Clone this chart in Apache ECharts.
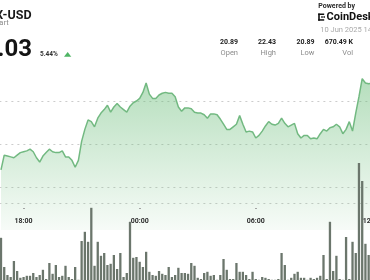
<!DOCTYPE html>
<html>
<head>
<meta charset="utf-8">
<script src="https://cdn.jsdelivr.net/npm/echarts@6/dist/echarts.min.js"></script>
<style>
  html, body { margin: 0; padding: 0; background: #ffffff; }
  #chart { width: 370px; height: 280px; }
</style>
</head>
<body>
<div id="chart"></div>
<script>
// AVAX-USD intraday: 10-minute slots from 16:50 to 12:00
const firstSlot = '16:50';
const slotCount = 116;
const slotMinutes = 10;

// last traded price per slot (USD)
const priceValues = [
  21.20, 21.37, 21.36, 21.35, 21.34, 21.37, 21.40, 21.41, 21.42, 21.44,
  21.41, 21.34, 21.29, 21.36, 21.40, 21.44, 21.41, 21.40, 21.40, 21.42,
  21.35, 21.35, 21.31, 21.23, 21.31, 21.53, 21.67, 21.78, 21.76, 21.70,
  21.80, 21.86, 21.90, 21.95, 21.87, 21.93, 21.97, 21.93, 21.90, 21.87,
  21.94, 21.98, 22.00, 22.03, 22.10, 22.21, 22.08, 22.03, 22.03, 22.07,
  22.09, 22.10, 22.09, 22.09, 22.05, 21.93, 21.88, 21.92, 21.92, 21.91,
  21.87, 21.86, 21.86, 21.84, 21.80, 21.85, 21.85, 21.84, 21.79, 21.73,
  21.67, 21.67, 21.70, 21.73, 21.83, 21.73, 21.64, 21.65, 21.64, 21.57,
  21.60, 21.65, 21.71, 21.76, 21.73, 21.72, 21.74, 21.80, 21.74, 21.70,
  21.72, 21.74, 21.62, 21.57, 21.60, 21.60, 21.56, 21.57, 21.56, 21.62,
  21.67, 21.65, 21.69, 21.70, 21.73, 21.70, 21.62, 21.67, 21.76, 21.65,
  21.86, 22.05, 22.26, 22.21, 22.20, 22.21
];

// traded volume per slot (thousands of AVAX)
const volumeValues = [
  11.3, 4.0, 2.0, 1.5, 5.5, 3.0, 1.3, 1.5, 1.8, 1.8,
  2.5, 1.5, 2.0, 3.3, 1.0, 5.0, 2.3, 4.5, 1.5, 1.8,
  4.3, 1.5, 1.0, 4.0, 0.8, 10.5, 12.8, 10.3, 18.8, 4.3,
  10.3, 6.8, 7.5, 4.5, 4.8, 7.0, 3.5, 7.5, 1.5, 2.5,
  15.3, 6.3, 6.5, 5.3, 4.0, 7.8, 2.8, 2.0, 1.8, 3.0,
  2.3, 2.0, 4.0, 1.5, 2.0, 3.8, 2.5, 2.5, 2.3, 5.0,
  4.3, 1.3, 1.0, 2.5, 2.8, 1.8, 2.0, 0.8, 2.0, 6.0,
  3.3, 1.0, 1.0, 5.0, 2.8, 2.8, 2.0, 1.0, 2.8, 1.0,
  0.8, 1.5, 1.3, 1.0, 0.8, 0.8, 1.0, 7.5, 4.5, 0.8,
  1.3, 2.3, 2.8, 1.3, 1.3, 0.8, 1.3, 1.0, 1.3, 1.8,
  7.0, 1.0, 15.3, 3.0, 6.8, 1.0, 0.8, 11.5, 1.0, 10.3,
  7.5, 30.0, 25.5, 9.8, 7.0, 6.3
];

const xTickLabels = ['18:00', '00:00', '06:00', '12:00'];
const priceAxisMin = 20.5, priceAxisMax = 22.5, priceAxisStep = 0.5;
const volumeAxisMax = 30, volumeGuideStep = 20;

const symbolName = 'AVAX-USD';
const subTitle = 'Chart';
const lastPrice = '22.03';
const changePct = '5.44%';
const statValues = ['20.89', '22.43', '20.89', '670.49 K'];
const statLabels = ['Open', 'High', 'Low', 'Vol'];
const brandLine = 'Powered by';
const brandName = 'CoinDesk';
const stampText = '10 Jun 2025 14:00 UTC';

function buildSlots(start, n, step) {
  const parts = start.split(':');
  let m = (+parts[0]) * 60 + (+parts[1]);
  const out = [];
  for (let i = 0; i < n; i++) {
    const t = ((m % 1440) + 1440) % 1440;
    const hh = String(Math.floor(t / 60)).padStart(2, '0');
    const mm = String(t % 60).padStart(2, '0');
    out.push(hh + ':' + mm);
    m += step;
  }
  return out;
}
const categories = buildSlots(firstSlot, slotCount, slotMinutes);

const FONT = 'Roboto, "Liberation Sans", sans-serif';
const slotW = 3.225;
const gridLeft = 1.0 - slotW / 2;
const gridRight = 370 - (gridLeft + slotW * slotCount);

const showTick = (idx, val) => xTickLabels.indexOf(val) >= 0;

const statX = [238, 276, 314.5, 353];
const header = [];
header.push({ type: 'text', x: 31.5, y: 15.5, style: { text: symbolName, font: 'bold 12.5px ' + FONT, fill: '#1a1a1a', align: 'right', verticalAlign: 'middle' } });
header.push({ type: 'text', x: 8.6, y: 23.5, style: { text: subTitle, font: '7.5px ' + FONT, fill: '#8a8a8a', align: 'right', verticalAlign: 'middle' } });
header.push({ type: 'text', x: 32, y: 50, style: { text: lastPrice, font: 'bold 24px ' + FONT, fill: '#141414', align: 'right', verticalAlign: 'middle' } });
header.push({ type: 'text', x: 40, y: 54.7, style: { text: changePct, font: 'bold 6.5px ' + FONT, fill: '#333333', align: 'left', verticalAlign: 'middle' } });
header.push({ type: 'polygon', shape: { points: [[64, 56.8], [71.3, 56.8], [67.65, 52]] }, style: { fill: '#4fb565' } });
header.push({ type: 'text', x: 318.3, y: 6.4, style: { text: brandLine, font: 'bold 7px ' + FONT, fill: '#2a2a2a', align: 'left', verticalAlign: 'middle' } });
// brand mark
[[318.2, 13.5, 1.6, 7.2], [318.2, 13.5, 6, 1.5], [318.2, 19.2, 6, 1.5], [321.2, 16.3, 1.6, 1.5], [323.4, 16.3, 1.6, 1.5]].forEach(r => {
  header.push({ type: 'rect', shape: { x: r[0], y: r[1], width: r[2], height: r[3] }, style: { fill: '#111111' } });
});
header.push({ type: 'text', x: 326.6, y: 17.2, style: { text: brandName, font: 'bold 11px ' + FONT, fill: '#111111', align: 'left', verticalAlign: 'middle' } });
header.push({ type: 'text', x: 320.3, y: 30, style: { text: stampText, font: '7.5px ' + FONT, fill: '#a9a9a9', align: 'left', verticalAlign: 'middle' } });
statValues.forEach((v, i) => {
  header.push({ type: 'text', x: statX[i], y: 42.6, style: { text: v, font: 'bold 7px ' + FONT, fill: '#222222', align: 'right', verticalAlign: 'middle' } });
  header.push({ type: 'text', x: statX[i], y: 53.2, style: { text: statLabels[i], font: '7.5px ' + FONT, fill: '#8c8c8c', align: 'right', verticalAlign: 'middle' } });
});

const chart = echarts.init(document.getElementById('chart'), null, { renderer: 'canvas' });
chart.setOption({
  backgroundColor: '#ffffff',
  animation: false,
  graphic: { elements: header },
  grid: [
    { left: gridLeft, right: gridRight, top: 58, bottom: 50, outerBoundsMode: 'none', containLabel: false },
    { left: gridLeft, right: gridRight, top: 163, bottom: -3, outerBoundsMode: 'none', containLabel: false }
  ],
  xAxis: [
    {
      type: 'category', gridIndex: 0, data: categories, boundaryGap: true,
      axisLine: { show: false, onZero: false }, axisTick: { show: false }, axisLabel: { show: false }, splitLine: { show: false }
    },
    {
      type: 'category', gridIndex: 1, data: categories, boundaryGap: true,
      position: 'top', offset: -46, z: 10,
      axisLine: { show: false, onZero: false },
      axisTick: { show: true, inside: false, alignWithLabel: true, length: 1, interval: showTick, lineStyle: { color: '#9a9a9a', width: 1.8 } },
      axisLabel: { show: true, inside: true, interval: showTick, margin: 9, color: '#2e2e2e', fontFamily: FONT, fontSize: 7, fontWeight: 'bold' },
      splitLine: { show: false }
    }
  ],
  yAxis: [
    {
      type: 'value', gridIndex: 0, min: priceAxisMin, max: priceAxisMax, interval: priceAxisStep,
      axisLine: { show: false }, axisTick: { show: false }, axisLabel: { show: false },
      splitLine: { show: true, showMinLine: false, showMaxLine: false, lineStyle: { color: '#cccccc', width: 1, type: [2, 4] } }
    },
    {
      type: 'value', gridIndex: 1, min: 0, max: volumeAxisMax, interval: volumeGuideStep,
      axisLine: { show: false }, axisTick: { show: false }, axisLabel: { show: false },
      splitLine: { show: true, showMinLine: false, showMaxLine: false, lineStyle: { color: '#cccccc', width: 1, type: [2, 4] } }
    }
  ],
  series: [
    {
      type: 'bar', xAxisIndex: 1, yAxisIndex: 1, data: volumeValues, barWidth: 2.3, z: 3,
      itemStyle: { color: '#6b766c' }
    },
    {
      type: 'line', xAxisIndex: 0, yAxisIndex: 0, data: priceValues, z: 2,
      symbol: 'none', smooth: false,
      lineStyle: { color: '#72b981', width: 1.5 },
      areaStyle: {
        origin: 'start',
        color: new echarts.graphic.LinearGradient(0, 0, 0, 1, [
          { offset: 0, color: 'rgba(105,188,120,0.7)' },
          { offset: 1, color: 'rgba(105,188,120,0.08)' }
        ])
      }
    }
  ]
});
</script>
</body>
</html>
